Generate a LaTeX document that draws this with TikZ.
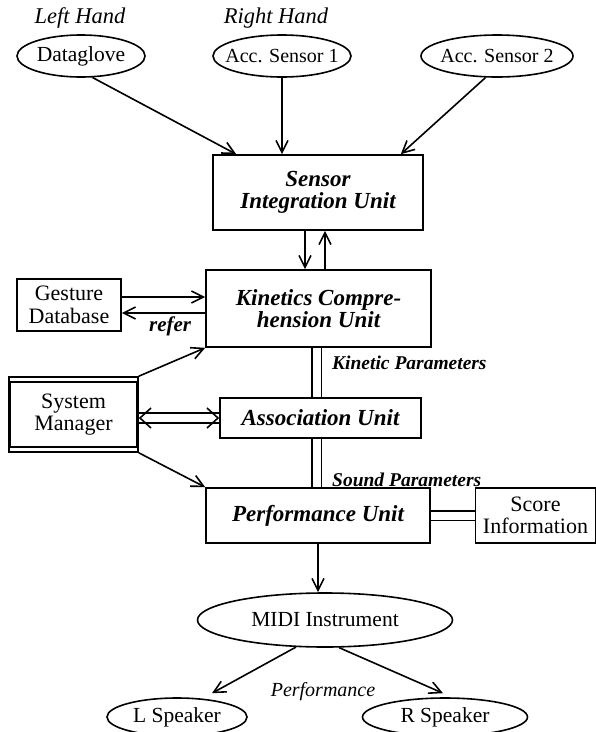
\documentclass[tikz,border=0pt]{standalone}
\usepackage{fontspec}
\setmainfont{Liberation Serif}
\usetikzlibrary{arrows.meta,shapes.geometric}
\tikzset{mybarb/.tip={Straight Barb[length=11pt,width=20pt,line width=1.6pt,color=black]}}
\begin{document}
\begin{tikzpicture}[x=1pt,y=-1pt,
  lw/.style={line width=1.6pt},
  ell/.style={draw, ellipse, lw, inner xsep=-20pt, inner ysep=-8pt, font=\fontsize{21.5}{22}\selectfont},
  unitbox/.style={draw, rectangle, lw, inner sep=0pt, align=center, font=\fontsize{23}{22.5}\selectfont\bfseries\itshape},
  plainbox/.style={draw, rectangle, lw, inner sep=0pt, align=center, font=\fontsize{22}{22.5}\selectfont},
  ttl/.style={font=\fontsize{22.5}{22.5}\selectfont\itshape, inner sep=0pt},
  plab/.style={font=\fontsize{19.5}{19.5}\selectfont\bfseries\itshape, inner sep=0pt},
  arr/.style={lw, -{Straight Barb[length=12pt,width=12pt,line width=1.6pt]}},
  dbl/.style={line width=1.6pt, double, double distance=8pt},
  dblhead/.style={white, line width=0.5pt, {mybarb}-{mybarb}}
]
\useasboundingbox (0,0) rectangle (596,732);
% titles
\node[ttl] (lh) at (80,18) {Left Hand};
\node[ttl] (rh) at (276,18) {Right Hand};
% sensors
\node[ell, minimum width=128, minimum height=42] (dg) at (81,56) {Dataglove};
\node[ell, minimum width=138, minimum height=42, font=\fontsize{20}{22}\selectfont] (a1) at (282,56) {Acc. Sensor 1};
\node[ell, minimum width=152, minimum height=42, font=\fontsize{20}{22}\selectfont] (a2) at (497,56) {Acc. Sensor 2};
% units
\node[unitbox, minimum width=210, minimum height=75] (siu) at (318,192.5) {Sensor\\Integration Unit};
\node[unitbox, minimum width=225, minimum height=77] (kcu) at (318.5,308.5) {Kinetics Compre-\\hension Unit};
\node[plainbox, minimum width=104, minimum height=52] (gd) at (69,305) {Gesture\\Database};
\node[plainbox, minimum width=129, minimum height=75] (sm) at (73.5,414.5) {System\\Manager};
\draw[lw] ([xshift=2pt,yshift=-6pt]sm.north west) rectangle ([xshift=-2pt,yshift=6pt]sm.south east);
\node[unitbox, minimum width=201, minimum height=40] (au) at (320.5,418) {Association Unit};
\node[unitbox, minimum width=224, minimum height=55] (pu) at (318,515.5) {Performance Unit};
\node[plainbox, minimum width=120, minimum height=55] (sc) at (535.5,515.5) {Score\\Information};
% outputs
\node[ell, minimum width=255, minimum height=54] (midi) at (325,620) {MIDI Instrument};
\node[ell, minimum width=140, minimum height=38] (ls) at (177,717) {L Speaker};
\node[ell, minimum width=165, minimum height=38] (rs) at (445,717) {R Speaker};
% labels
\node[plab, anchor=west] (kp) at (332,363) {Kinetic Parameters};
\node[plab, anchor=west] (sp) at (332,480) {Sound Parameters};
\node[font=\fontsize{20}{20}\selectfont\itshape, inner sep=0pt] (perf) at (323,692) {Performance};
% connectors
\draw[arr] (dg.-62) -- ([xshift=24pt]siu.north west);
\draw[arr] (a1.south) -- (a1.south |- siu.north);
\draw[arr] (a2.-118) -- ([xshift=-23pt]siu.north east);
\draw[arr] ([xshift=-13pt]siu.south) -- ([xshift=-13pt]siu.south |- kcu.north);
\draw[arr] ([xshift=7pt]siu.south |- kcu.north) -- ([xshift=7pt]siu.south);
\draw[arr] ([yshift=8pt]gd.east) -- ([yshift=8pt]gd.east -| kcu.west);
\draw[arr] ([yshift=-8pt]gd.east -| kcu.west) -- ([yshift=-8pt]gd.east)
  node[pos=0.42, below=3pt, plab, font=\fontsize{21}{21}\selectfont\bfseries\itshape] (refer) {refer};
\draw[arr] (sm.north east) -- (kcu.south west);
\draw[arr] (sm.south east) -- (pu.north west);
\draw[dbl] (au.west -| sm.east) -- (au.west);
\draw[dblhead] (au.west -| sm.east) -- (au.west);
\draw[dbl] ([xshift=-2pt]kcu.south) -- ([xshift=-2pt]kcu.south |- au.north);
\draw[dbl] ([xshift=-2pt]kcu.south |- au.south) -- ([xshift=-2pt]kcu.south |- pu.north);
\draw[dbl] (pu.east) -- (sc.west);
\draw[arr] (pu.south) -- (pu.south |- midi.north);
\draw[arr] (midi.-137) -- ([xshift=35pt,yshift=4pt]ls.north);
\draw[arr] (midi.-63) -- ([xshift=-2pt,yshift=4pt]rs.north);
\end{tikzpicture}
\end{document}
